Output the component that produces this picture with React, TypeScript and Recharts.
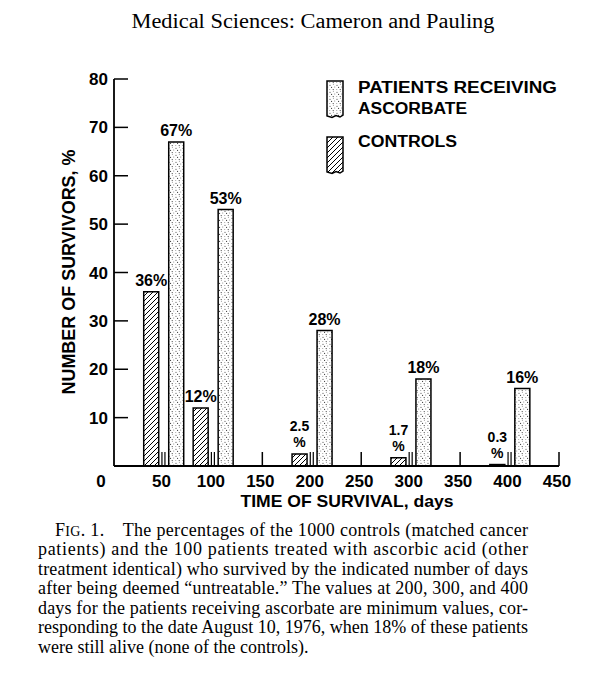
import React from 'react';
import { BarChart, Bar, XAxis, YAxis, LabelList, Legend } from 'recharts';

// survival day groups and percentages
const days = [50, 100, 200, 300, 400];
const controls = [36, 12, 2.5, 1.7, 0.3];
const ascorbate = [67, 53, 28, 18, 16];

const xTicks = [0, 50, 100, 150, 200, 250, 300, 350, 400, 450];
const yTicks = [10, 20, 30, 40, 50, 60, 70, 80];

const legendLabels = [['PATIENTS RECEIVING', 'ASCORBATE'], ['CONTROLS']];

const title = 'Medical Sciences:  Cameron and Pauling';
const captionLines = [
  'The percentages of the 1000 controls (matched cancer',
  'patients) and the 100 patients treated with ascorbic acid (other',
  'treatment identical) who survived by the indicated number of days',
  'after being deemed \u201Cuntreatable.\u201D The values at 200, 300, and 400',
  'days for the patients receiving ascorbate are minimum values, cor-',
  'responding to the date August 10, 1976, when 18% of these patients',
  'were still alive (none of the controls).',
];

const data = days.map((d, i) => ({
  day: d,
  controls: controls[i],
  ascorbate: ascorbate[i],
}));

const SANS = '"Liberation Sans", Arial, Helvetica, sans-serif';
const SERIF = '"Liberation Serif", "Times New Roman", serif';

const XTick = (props: any) => {
  const { x, y, payload } = props;
  const v = payload.value;
  const isData = days.includes(v);
  return (
    <g>
      {v !== 0 && !isData && (
        <line x1={x} y1={y} x2={x} y2={y - 14} stroke="#000" strokeWidth={1.5} />
      )}
      {isData && (
        <>
          <line x1={x - 1.5} y1={y} x2={x - 1.5} y2={y - 14} stroke="#000" strokeWidth={1.2} />
          <line x1={x + 1.5} y1={y} x2={x + 1.5} y2={y - 14} stroke="#000" strokeWidth={1.2} />
        </>
      )}
      <text
        x={v === 0 ? x - 13 : x - 2}
        y={y + 21}
        textAnchor="middle"
        fontFamily={SANS}
        fontWeight={700}
        fontSize={17}
        fill="#000"
      >
        {v}
      </text>
    </g>
  );
};

const YTick = (props: any) => {
  const { x, y, payload } = props;
  return (
    <g>
      <line x1={x} y1={y} x2={x + 14} y2={y} stroke="#000" strokeWidth={1.5} />
      <text
        x={x - 6}
        y={y + 6}
        textAnchor="end"
        fontFamily={SANS}
        fontWeight={700}
        fontSize={17}
        fill="#000"
      >
        {payload.value}
      </text>
    </g>
  );
};

const BarLabel = (props: any) => {
  const { x, y, width, value } = props;
  const cx = x + width / 2;
  if (value < 5) {
    const small = { fontFamily: SANS, fontWeight: 700, fontSize: 14, fill: '#000' };
    return (
      <g>
        <text x={cx} y={y - 23} textAnchor="middle" {...small}>
          {value}
        </text>
        <text x={cx} y={y - 7} textAnchor="middle" {...small}>
          %
        </text>
      </g>
    );
  }
  return (
    <text
      x={cx}
      y={y - 6}
      textAnchor="middle"
      fontFamily={SANS}
      fontWeight={700}
      fontSize={16}
      fill="#000"
    >
      {`${value}%`}
    </text>
  );
};

const renderLegend = () => {
  const textStyle = { fontFamily: SANS, fontWeight: 700, fontSize: 16, fill: '#000' };
  return (
    <svg width={614} height={200} style={{ display: 'block' }}>
      <path
        d="M327,81 H343 V115 L340,117 L336,115.5 L332,117.5 L327,116 Z"
        fill="url(#stipple)"
        stroke="#000"
        strokeWidth={1.5}
      />
      <text x={358} y={93} textLength={199} lengthAdjust="spacingAndGlyphs" {...textStyle}>
        {legendLabels[0][0]}
      </text>
      <text x={358} y={114} textLength={109} lengthAdjust="spacingAndGlyphs" {...textStyle}>
        {legendLabels[0][1]}
      </text>
      <path
        d="M327,137 H343 V171 L340,173 L336,171.5 L332,173.5 L327,172 Z"
        fill="url(#hatch)"
        stroke="#000"
        strokeWidth={1.5}
      />
      <text x={358} y={147} textLength={99} lengthAdjust="spacingAndGlyphs" {...textStyle}>
        {legendLabels[1][0]}
      </text>
    </svg>
  );
};

export default function App() {
  return (
    <div
      style={{
        position: 'absolute',
        left: 0,
        top: 0,
        width: 614,
        height: 680,
        background: '#fff',
        overflow: 'hidden',
      }}
    >
      <svg width={0} height={0} style={{ position: 'absolute' }}>
        <defs>
          <pattern id="stipple" width="7" height="7" patternUnits="userSpaceOnUse">
            <rect width="7" height="7" fill="#fff" />
            <circle cx="1" cy="1.2" r="0.55" fill="#333" />
            <circle cx="4.3" cy="0.6" r="0.45" fill="#333" />
            <circle cx="2.6" cy="3.4" r="0.55" fill="#333" />
            <circle cx="5.8" cy="3" r="0.45" fill="#333" />
            <circle cx="0.8" cy="5.4" r="0.45" fill="#333" />
            <circle cx="4.2" cy="5.6" r="0.55" fill="#333" />
          </pattern>
          <pattern id="hatch" width="5" height="5" patternUnits="userSpaceOnUse">
            <rect width="5" height="5" fill="#fff" />
            <path d="M0,5 L5,0 M-1,1 L1,-1 M4,6 L6,4" stroke="#000" strokeWidth="1" />
          </pattern>
        </defs>
      </svg>

      <div style={{ position: 'absolute', left: 0, top: 0 }}>
        <BarChart
          width={614}
          height={680}
          data={data}
          margin={{ top: 79, right: 55, bottom: 174, left: 54 }}
          barGap={10}
        >
          <XAxis
            dataKey="day"
            type="number"
            domain={[0, 450]}
            ticks={xTicks}
            interval={0}
            height={40}
            tickSize={0}
            tickMargin={0}
            tickLine={false}
            axisLine={{ stroke: '#000', strokeWidth: 1.8 }}
            tick={<XTick />}
          />
          <YAxis
            type="number"
            domain={[0, 80]}
            ticks={yTicks}
            interval={0}
            width={60}
            tickSize={0}
            tickMargin={0}
            tickLine={false}
            axisLine={{ stroke: '#000', strokeWidth: 1.8 }}
            tick={<YTick />}
          />
          <Legend
            layout="vertical"
            align="center"
            verticalAlign="middle"
            content={renderLegend}
            wrapperStyle={{ position: 'absolute', left: 0, top: 0, width: 614, height: 200 }}
          />
          <Bar
            dataKey="controls"
            barSize={15}
            fill="url(#hatch)"
            stroke="#000"
            strokeWidth={1.5}
            isAnimationActive={false}
          >
            <LabelList dataKey="controls" content={<BarLabel />} />
          </Bar>
          <Bar
            dataKey="ascorbate"
            barSize={15}
            fill="url(#stipple)"
            stroke="#000"
            strokeWidth={1.5}
            isAnimationActive={false}
          >
            <LabelList dataKey="ascorbate" content={<BarLabel />} />
          </Bar>
        </BarChart>
      </div>

      <svg
        width={614}
        height={680}
        style={{ position: 'absolute', left: 0, top: 0, pointerEvents: 'none' }}
      >
        <text
          x={313}
          y={28}
          textAnchor="middle"
          fontFamily={SERIF}
          fontSize={20}
          textLength={363}
          lengthAdjust="spacingAndGlyphs"
          fill="#000"
        >
          {title}
        </text>
        <text
          x={75}
          y={272}
          transform="rotate(-90 75 272)"
          textAnchor="middle"
          fontFamily={SANS}
          fontWeight={700}
          fontSize={18}
          textLength={245}
          lengthAdjust="spacingAndGlyphs"
          fill="#000"
        >
          NUMBER OF SURVIVORS, %
        </text>
        <text
          x={347}
          y={507}
          textAnchor="middle"
          fontFamily={SANS}
          fontWeight={700}
          fontSize={17}
          textLength={213}
          lengthAdjust="spacingAndGlyphs"
          fill="#000"
        >
          TIME OF SURVIVAL, days
        </text>
        {captionLines.map((line, i) => {
          const y = 536 + i * 19.45;
          if (i === 0) {
            return (
              <text
                key={i}
                x={55}
                y={y}
                fontFamily={SERIF}
                fontSize={18}
                textLength={473}
                lengthAdjust="spacing"
                fill="#000"
              >
                F<tspan fontSize={14}>IG</tspan>. 1.{'\u2003'}{line}
              </text>
            );
          }
          const last = i === captionLines.length - 1;
          return (
            <text
              key={i}
              x={38}
              y={y}
              fontFamily={SERIF}
              fontSize={18}
              textLength={last ? undefined : 490}
              lengthAdjust="spacing"
              fill="#000"
            >
              {line}
            </text>
          );
        })}
      </svg>
    </div>
  );
}
